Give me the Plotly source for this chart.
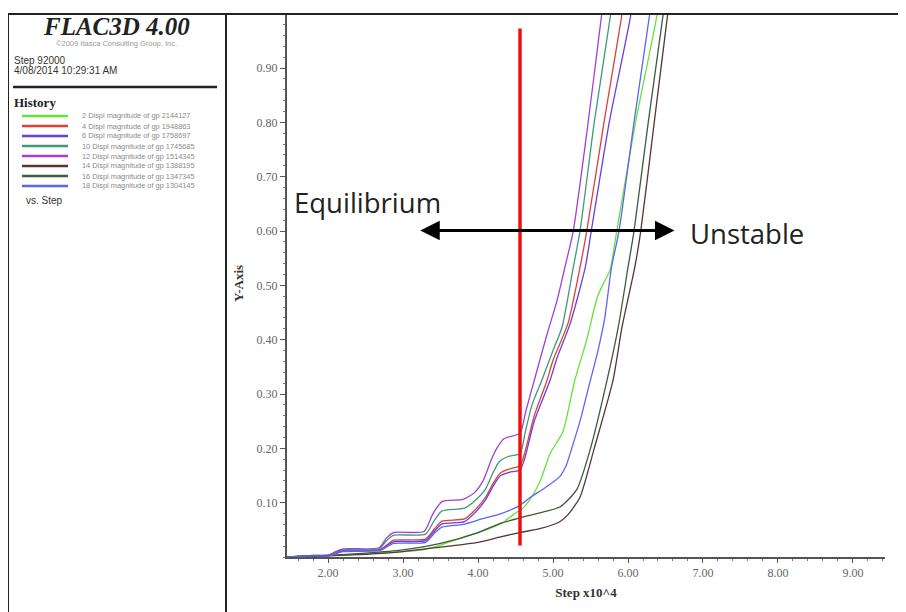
import plotly.graph_objects as go

# ---------------- data ----------------
series_names = [
    "2 Displ magnitude of gp 2144127",
    "4 Displ magnitude of gp 1948863",
    "6 Displ magnitude of gp 1758697",
    "10 Displ magnitude of gp 1745685",
    "12 Displ magnitude of gp 1514345",
    "14 Displ magnitude of gp 1388195",
    "16 Displ magnitude of gp 1347345",
    "18 Displ magnitude of gp 1304145",
]

x_2 = [1.45, 2.0, 2.5, 3.0, 3.2, 3.5, 3.8, 4.0, 4.2, 4.35, 4.47, 4.6, 4.69, 4.83, 4.96, 5.13, 5.29, 5.45, 5.59, 5.67, 5.76, 5.85, 6.1, 6.39, 6.46]
y_2 = [0.0, 0.003, 0.006, 0.010, 0.012, 0.022, 0.036, 0.045, 0.055, 0.065, 0.078, 0.090, 0.105, 0.140, 0.190, 0.230, 0.325, 0.400, 0.478, 0.503, 0.528, 0.600, 0.800, 1.000, 1.080]

x_4 = [1.45, 1.8, 2.02, 2.1, 2.2, 2.7, 2.8, 2.87, 3.3, 3.42, 3.52, 3.82, 3.97, 4.1, 4.2, 4.3, 4.42, 4.56, 4.62, 4.75, 4.92, 5.0, 5.2, 5.36, 5.45, 5.68, 5.92, 5.99]
y_4 = [0.0, 0.002, 0.003, 0.008, 0.012, 0.014, 0.024, 0.031, 0.033, 0.052, 0.066, 0.070, 0.088, 0.110, 0.135, 0.155, 0.162, 0.168, 0.190, 0.260, 0.325, 0.362, 0.430, 0.533, 0.600, 0.800, 1.000, 1.080]

x_6 = [1.45, 1.8, 2.02, 2.1, 2.2, 2.7, 2.8, 2.87, 3.3, 3.42, 3.52, 3.82, 3.97, 4.1, 4.2, 4.3, 4.42, 4.56, 4.62, 4.75, 4.96, 5.05, 5.23, 5.43, 5.51, 5.75, 6.04, 6.11]
y_6 = [0.0, 0.002, 0.003, 0.008, 0.011, 0.013, 0.022, 0.028, 0.030, 0.048, 0.061, 0.065, 0.083, 0.105, 0.130, 0.150, 0.156, 0.160, 0.180, 0.250, 0.325, 0.365, 0.430, 0.533, 0.600, 0.800, 1.000, 1.080]

x_10 = [1.45, 1.8, 2.02, 2.1, 2.2, 2.68, 2.78, 2.87, 3.3, 3.42, 3.52, 3.82, 3.97, 4.1, 4.2, 4.28, 4.4, 4.56, 4.63, 4.72, 4.85, 5.0, 5.12, 5.27, 5.36, 5.55, 5.77, 5.84]
y_10 = [0.0, 0.003, 0.003, 0.009, 0.013, 0.015, 0.030, 0.040, 0.042, 0.068, 0.085, 0.090, 0.105, 0.125, 0.155, 0.175, 0.185, 0.190, 0.230, 0.280, 0.325, 0.380, 0.423, 0.533, 0.600, 0.800, 1.000, 1.080]

x_12 = [1.45, 1.8, 2.02, 2.1, 2.2, 2.68, 2.78, 2.87, 3.28, 3.4, 3.52, 3.8, 3.95, 4.07, 4.18, 4.25, 4.35, 4.56, 4.64, 4.76, 4.92, 5.05, 5.16, 5.27, 5.45, 5.65, 5.72]
y_12 = [0.0, 0.003, 0.004, 0.010, 0.015, 0.017, 0.035, 0.045, 0.047, 0.080, 0.102, 0.106, 0.118, 0.141, 0.180, 0.200, 0.218, 0.228, 0.270, 0.330, 0.410, 0.470, 0.534, 0.600, 0.780, 1.000, 1.080]

x_14 = [1.45, 2.0, 2.5, 3.0, 3.5, 4.0, 4.3, 4.56, 4.85, 5.09, 5.2, 5.36, 5.55, 5.8, 5.92, 6.09, 6.17, 6.35, 6.53, 6.6]
y_14 = [0.0, 0.002, 0.005, 0.010, 0.018, 0.027, 0.037, 0.045, 0.053, 0.065, 0.078, 0.110, 0.200, 0.325, 0.423, 0.533, 0.600, 0.800, 1.000, 1.080]

x_16 = [1.45, 2.0, 2.5, 3.0, 3.5, 4.0, 4.3, 4.56, 4.85, 5.09, 5.2, 5.32, 5.5, 5.72, 5.87, 6.0, 6.08, 6.27, 6.47, 6.54]
y_16 = [0.0, 0.003, 0.007, 0.013, 0.025, 0.045, 0.062, 0.072, 0.082, 0.092, 0.105, 0.125, 0.200, 0.325, 0.423, 0.533, 0.600, 0.800, 1.000, 1.080]

x_18 = [1.45, 1.8, 2.02, 2.1, 2.2, 2.7, 2.8, 2.87, 3.3, 3.42, 3.52, 3.8, 4.05, 4.31, 4.56, 4.7, 4.9, 5.09, 5.18, 5.25, 5.36, 5.47, 5.6, 5.69, 5.78, 5.88, 6.08, 6.29, 6.36]
y_18 = [0.0, 0.002, 0.002, 0.006, 0.010, 0.012, 0.020, 0.025, 0.027, 0.044, 0.055, 0.060, 0.070, 0.080, 0.095, 0.110, 0.128, 0.148, 0.170, 0.200, 0.250, 0.310, 0.380, 0.440, 0.533, 0.600, 0.800, 1.000, 1.080]

series_x = [x_2, x_4, x_6, x_10, x_12, x_14, x_16, x_18]
series_y = [y_2, y_4, y_6, y_10, y_12, y_14, y_16, y_18]
series_colors = ["#66e23a", "#e0403a", "#6a3de0", "#3f9a78", "#a040d8", "#5a3434", "#3e5a40", "#5a66f2"]

x_ticks = [2, 3, 4, 5, 6, 7, 8, 9]
y_ticks = [0.1, 0.2, 0.3, 0.4, 0.5, 0.6, 0.7, 0.8, 0.9]

limit_step = 4.56          # red equilibrium/unstable boundary
limit_y = [0.021, 0.973]
arrow_y = 0.601
arrow_x = [3.21, 6.62]

# ---------------- layout geometry ----------------
# page body adds an 8px margin, so the figure is 8px smaller and all
# reference pixel positions are relative to the plot area.
W, H = 898, 604
OFF = 8
PL, PR, PT, PB = 287, 885, 14, 557   # plot area in reference (window) pixels


def px(x):
    return (x - PL) / (PR - PL)


def py(y):
    return (PB - y) / (PB - PT)


fig = go.Figure()

for xs, ys, c, n in zip(series_x, series_y, series_colors, series_names):
    fig.add_trace(go.Scatter(x=xs, y=ys, mode="lines", name=n,
                             line=dict(color=c, width=1.3, shape="spline", smoothing=0.6),
                             showlegend=False, hoverinfo="skip"))

shapes = []
# red vertical line
shapes.append(dict(type="line", xref="x", yref="y", x0=limit_step, x1=limit_step,
                   y0=limit_y[0], y1=limit_y[1], line=dict(color="#ee1111", width=3.5)))
# frame lines
frame = "#222222"
shapes.append(dict(type="line", xref="paper", yref="paper", x0=px(8), x1=px(910),
                   y0=py(14), y1=py(14), line=dict(color=frame, width=2)))
shapes.append(dict(type="line", xref="paper", yref="paper", x0=px(8), x1=px(8),
                   y0=py(14), y1=py(615), line=dict(color=frame, width=2)))
shapes.append(dict(type="line", xref="paper", yref="paper", x0=px(226), x1=px(226),
                   y0=py(14), y1=py(615), line=dict(color=frame, width=2)))
shapes.append(dict(type="line", xref="paper", yref="paper", x0=px(13), x1=px(217),
                   y0=py(87), y1=py(87), line=dict(color=frame, width=2.5)))

annotations = []
# legend samples and texts
for i, (n, c) in enumerate(zip(series_names, series_colors)):
    yy = 116 + 10 * i
    shapes.append(dict(type="line", xref="paper", yref="paper", x0=px(22), x1=px(68),
                       y0=py(yy), y1=py(yy), line=dict(color=c, width=2.5)))
    annotations.append(dict(xref="paper", yref="paper", x=px(80), y=py(yy), text=n,
                            showarrow=False, xanchor="left", yanchor="middle",
                            font=dict(family="Liberation Sans", size=7.4, color="#8a8a8a")))

sans = "Liberation Sans"
serif = "Liberation Serif"
annotations += [
    dict(xref="paper", yref="paper", x=px(116), y=py(26), text="<b><i>FLAC3D 4.00</i></b>",
         showarrow=False, xanchor="center", yanchor="middle",
         font=dict(family=serif, size=25, color="#222222")),
    dict(xref="paper", yref="paper", x=px(116), y=py(44), text="©2009 Itasca Consulting Group, Inc.",
         showarrow=False, xanchor="center", yanchor="middle",
         font=dict(family=sans, size=7.5, color="#999999")),
    dict(xref="paper", yref="paper", x=px(12), y=py(60), text="Step 92000",
         showarrow=False, xanchor="left", yanchor="middle",
         font=dict(family=sans, size=10, color="#333333")),
    dict(xref="paper", yref="paper", x=px(12), y=py(71), text="4/08/2014 10:29:31 AM",
         showarrow=False, xanchor="left", yanchor="middle",
         font=dict(family=sans, size=10, color="#333333")),
    dict(xref="paper", yref="paper", x=px(12), y=py(102), text="<b>History</b>",
         showarrow=False, xanchor="left", yanchor="middle",
         font=dict(family=serif, size=13, color="#222222")),
    dict(xref="paper", yref="paper", x=px(24), y=py(200), text="vs. Step",
         showarrow=False, xanchor="left", yanchor="middle",
         font=dict(family=sans, size=10, color="#333333")),
    dict(xref="paper", yref="paper", x=px(238), y=py(284), text="<b>Y-Axis</b>",
         showarrow=False, xanchor="center", yanchor="middle", textangle=-90,
         font=dict(family=serif, size=13, color="#333333")),
    # plot annotations
    dict(xref="x", yref="y", x=2.52, y=0.653, text="Equilibrium", showarrow=False,
         xanchor="center", yanchor="middle", font=dict(family="Open Sans", size=27.5, color="#222222")),
    dict(xref="x", yref="y", x=7.59, y=0.596, text="Unstable", showarrow=False,
         xanchor="center", yanchor="middle", font=dict(family="Open Sans", size=27.5, color="#222222")),
    dict(xref="x", yref="y", axref="x", ayref="y", x=arrow_x[1], y=arrow_y,
         ax=arrow_x[0], ay=arrow_y, text="", showarrow=True, arrowside="end+start",
         arrowhead=2, arrowsize=1.3, arrowwidth=3, arrowcolor="#000000"),
]

fig.update_layout(
    width=W, height=H,
    paper_bgcolor="white", plot_bgcolor="white",
    margin=dict(l=PL - OFF, r=W - (PR - OFF), t=PT - OFF, b=H - (PB - OFF), pad=0),
    shapes=shapes, annotations=annotations,
    xaxis=dict(range=[1.453, 9.427], tickvals=x_ticks, tickformat=".2f",
               showgrid=False, zeroline=False, showline=True, linecolor="#555555", linewidth=2,
               ticks="outside", ticklen=4, tickcolor="#555555",
               minor=dict(dtick=0.2, ticks="outside", ticklen=2, tickcolor="#777777"),
               tickfont=dict(family=serif, size=12, color="#666666"),
               title=dict(text="<b>Step x10^4</b>", standoff=8,
                          font=dict(family=serif, size=13, color="#333333"))),
    yaxis=dict(range=[0, 0.9995], tickvals=y_ticks, tickformat=".2f",
               showgrid=False, zeroline=False, showline=True, linecolor="#555555", linewidth=2,
               ticks="outside", ticklen=5, tickcolor="#555555",
               minor=dict(dtick=0.02, ticks="outside", ticklen=2, tickcolor="#777777"),
               tickfont=dict(family=serif, size=12, color="#666666")),
)

fig.write_html("out.html")
